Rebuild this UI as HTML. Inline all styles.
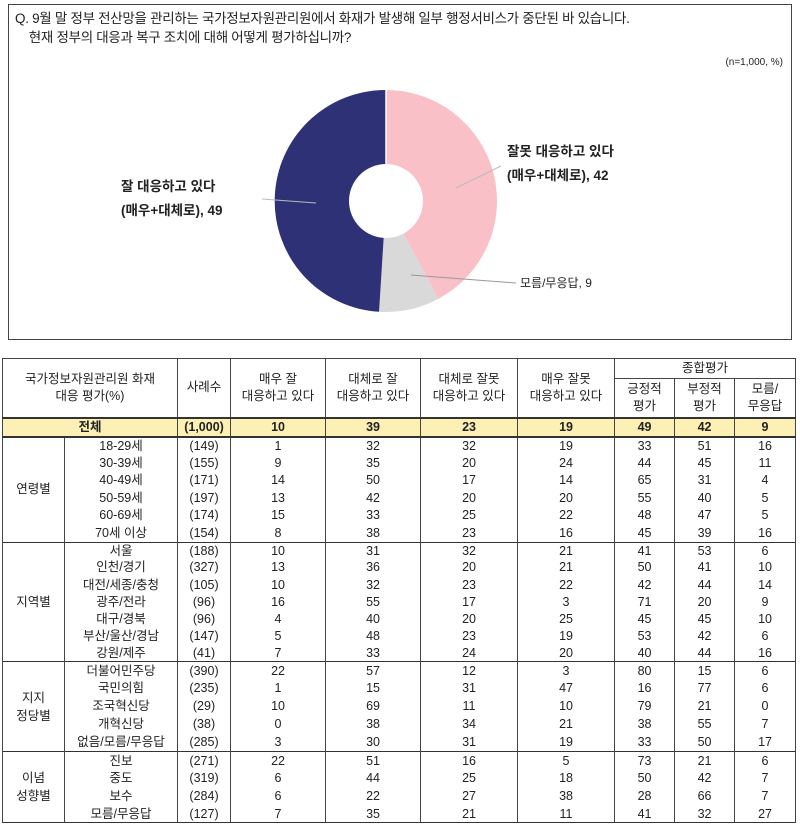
<!DOCTYPE html>
<html><head><meta charset="utf-8">
<style>
body{margin:0;width:800px;height:833px;background:#fff;position:relative;overflow:hidden;font-family:"Liberation Sans","Noto Sans CJK KR",sans-serif;color:#222}
.box{position:absolute;left:8px;top:4px;width:784px;height:336px;border:1.5px solid #444;box-sizing:border-box}
.q{position:absolute;left:6px;top:4px;font-size:13.5px;line-height:19px;letter-spacing:-0.3px}
.n{position:absolute;right:8px;top:52px;font-size:10px}
.lab{position:absolute;font-size:13.5px;font-weight:bold;line-height:24px}
table{position:absolute;left:2px;top:358px;width:793px;border-collapse:collapse;font-size:12.5px;table-layout:fixed}
td{text-align:center;padding:0;border-left:1px solid #444;border-right:1px solid #444;line-height:1;white-space:nowrap;overflow:hidden}
td.grp{line-height:1.45}
tr.g td{border-top:1.5px solid #333}
thead td{border:1px solid #444;font-size:12.5px;line-height:17px}
.tot td{background:#fdf0b4;font-weight:bold;border-top:2px solid #333;border-bottom:2px solid #333;height:17px}
</style></head><body>
<div class="box">
<div class="q">Q. 9월 말 정부 전산망을 관리하는 국가정보자원관리원에서 화재가 발생해 일부 행정서비스가 중단된 바 있습니다.<br>&nbsp;&nbsp;&nbsp;&nbsp;현재 정부의 대응과 복구 조치에 대해 어떻게 평가하십니까?</div>
<div class="n">(n=1,000, %)</div>
<svg width="784" height="336" style="position:absolute;left:0;top:0">
<g transform="translate(377,196)">
<path d="M0,-111 A111,111 0 0 1 52.3,97.9 L0,0Z" fill="#f9c0c7"/>
<path d="M52.3,97.9 A111,111 0 0 1 -6.97,110.8 L0,0Z" fill="#d9d9d9"/>
<path d="M-6.97,110.8 A111,111 0 0 1 0,-111 L0,0Z" fill="#2e3175"/>
<line x1="0" y1="-111" x2="0" y2="0" stroke="#fff" stroke-width="1.5"/>
<circle r="37" fill="#fff"/>
<line x1="70" y1="-13" x2="115" y2="-35" stroke="#bbb"/>
<line x1="-70" y1="2" x2="-124" y2="-2" stroke="#bbb"/>
<line x1="25" y1="74" x2="130" y2="82" stroke="#999"/>
</g>
</svg>
<div class="lab" style="left:112px;top:170px">잘 대응하고 있다<br>(매우+대체로), 49</div>
<div class="lab" style="left:498px;top:135px">잘못 대응하고 있다<br>(매우+대체로), 42</div>
<div class="lab" style="left:511px;top:266px;font-size:12px;font-weight:normal">모름/무응답, 9</div>
</div>
<table>
<colgroup><col style="width:62px"><col style="width:113px"><col style="width:53px"><col style="width:95px"><col style="width:95px"><col style="width:97px"><col style="width:97px"><col style="width:60px"><col style="width:60px"><col style="width:61px"></colgroup>
<thead>
<tr style="height:20px"><td colspan="2" rowspan="2">국가정보자원관리원 화재<br>대응 평가(%)</td><td rowspan="2">사례수</td><td rowspan="2">매우 잘<br>대응하고 있다</td><td rowspan="2">대체로 잘<br>대응하고 있다</td><td rowspan="2">대체로 잘못<br>대응하고 있다</td><td rowspan="2">매우 잘못<br>대응하고 있다</td><td colspan="3">종합평가</td></tr>
<tr style="height:39px"><td>긍정적<br>평가</td><td>부정적<br>평가</td><td>모름/<br>무응답</td></tr>
</thead>
<tbody>
<tr class="tot"><td colspan="2">전체</td><td>(1,000)</td><td>10</td><td>39</td><td>23</td><td>19</td><td>49</td><td>42</td><td>9</td></tr>
<tr class="g" style="height:17.6px"><td rowspan="6" class="grp">연령별</td><td>18-29세</td><td>(149)</td><td>1</td><td>32</td><td>32</td><td>19</td><td>33</td><td>51</td><td>16</td></tr>
<tr style="height:17.6px"><td>30-39세</td><td>(155)</td><td>9</td><td>35</td><td>20</td><td>24</td><td>44</td><td>45</td><td>11</td></tr>
<tr style="height:17.6px"><td>40-49세</td><td>(171)</td><td>14</td><td>50</td><td>17</td><td>14</td><td>65</td><td>31</td><td>4</td></tr>
<tr style="height:17.6px"><td>50-59세</td><td>(197)</td><td>13</td><td>42</td><td>20</td><td>20</td><td>55</td><td>40</td><td>5</td></tr>
<tr style="height:17.6px"><td>60-69세</td><td>(174)</td><td>15</td><td>33</td><td>25</td><td>22</td><td>48</td><td>47</td><td>5</td></tr>
<tr style="height:17.6px"><td>70세 이상</td><td>(154)</td><td>8</td><td>38</td><td>23</td><td>16</td><td>45</td><td>39</td><td>16</td></tr>
<tr class="g" style="height:17.1px"><td rowspan="7" class="grp">지역별</td><td>서울</td><td>(188)</td><td>10</td><td>31</td><td>32</td><td>21</td><td>41</td><td>53</td><td>6</td></tr>
<tr style="height:17.1px"><td>인천/경기</td><td>(327)</td><td>13</td><td>36</td><td>20</td><td>21</td><td>50</td><td>41</td><td>10</td></tr>
<tr style="height:17.1px"><td>대전/세종/충청</td><td>(105)</td><td>10</td><td>32</td><td>23</td><td>22</td><td>42</td><td>44</td><td>14</td></tr>
<tr style="height:17.1px"><td>광주/전라</td><td>(96)</td><td>16</td><td>55</td><td>17</td><td>3</td><td>71</td><td>20</td><td>9</td></tr>
<tr style="height:17.1px"><td>대구/경북</td><td>(96)</td><td>4</td><td>40</td><td>20</td><td>25</td><td>45</td><td>45</td><td>10</td></tr>
<tr style="height:17.1px"><td>부산/울산/경남</td><td>(147)</td><td>5</td><td>48</td><td>23</td><td>19</td><td>53</td><td>42</td><td>6</td></tr>
<tr style="height:17.1px"><td>강원/제주</td><td>(41)</td><td>7</td><td>33</td><td>24</td><td>20</td><td>40</td><td>44</td><td>16</td></tr>
<tr class="g" style="height:18px"><td rowspan="5" class="grp">지지<br>정당별</td><td>더불어민주당</td><td>(390)</td><td>22</td><td>57</td><td>12</td><td>3</td><td>80</td><td>15</td><td>6</td></tr>
<tr style="height:18px"><td>국민의힘</td><td>(235)</td><td>1</td><td>15</td><td>31</td><td>47</td><td>16</td><td>77</td><td>6</td></tr>
<tr style="height:18px"><td>조국혁신당</td><td>(29)</td><td>10</td><td>69</td><td>11</td><td>10</td><td>79</td><td>21</td><td>0</td></tr>
<tr style="height:18px"><td>개혁신당</td><td>(38)</td><td>0</td><td>38</td><td>34</td><td>21</td><td>38</td><td>55</td><td>7</td></tr>
<tr style="height:18px"><td>없음/모름/무응답</td><td>(285)</td><td>3</td><td>30</td><td>31</td><td>19</td><td>33</td><td>50</td><td>17</td></tr>
<tr class="g" style="height:17.8px"><td rowspan="4" class="grp">이념<br>성향별</td><td>진보</td><td>(271)</td><td>22</td><td>51</td><td>16</td><td>5</td><td>73</td><td>21</td><td>6</td></tr>
<tr style="height:17.8px"><td>중도</td><td>(319)</td><td>6</td><td>44</td><td>25</td><td>18</td><td>50</td><td>42</td><td>7</td></tr>
<tr style="height:17.8px"><td>보수</td><td>(284)</td><td>6</td><td>22</td><td>27</td><td>38</td><td>28</td><td>66</td><td>7</td></tr>
<tr style="height:17.8px;border-bottom:1.5px solid #333"><td>모름/무응답</td><td>(127)</td><td>7</td><td>35</td><td>21</td><td>11</td><td>41</td><td>32</td><td>27</td></tr>
</tbody>
</table>
</body></html>
